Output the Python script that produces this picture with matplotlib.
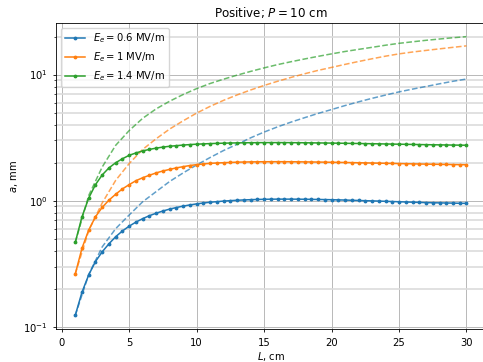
import numpy as np
import matplotlib
matplotlib.use("Agg")
import matplotlib.pyplot as plt

# solid curves: L = 1 ... 30 step 0.5
L_num = np.arange(1.0, 30.01, 0.5)
a_06 = [0.123, 0.188, 0.258, 0.329, 0.393, 0.455, 0.518, 0.575, 0.628, 0.676,
        0.72, 0.76, 0.795, 0.828, 0.857, 0.882, 0.905, 0.925, 0.943, 0.958,
        0.971, 0.982, 0.992, 1.0, 1.007, 1.013, 1.018, 1.022, 1.025, 1.027,
        1.028, 1.028, 1.028, 1.027, 1.026, 1.024, 1.022, 1.02, 1.017, 1.014,
        1.011, 1.007, 1.003, 0.999, 0.996, 0.992, 0.988, 0.984, 0.98, 0.976,
        0.972, 0.968, 0.965, 0.962, 0.96, 0.958, 0.956, 0.953, 0.952]
a_10 = [0.262, 0.42, 0.585, 0.745, 0.885, 1.01, 1.125, 1.24, 1.34, 1.44,
        1.52, 1.59, 1.66, 1.72, 1.77, 1.82, 1.86, 1.9, 1.93, 1.955,
        1.975, 1.99, 2.0, 2.01, 2.02, 2.025, 2.03, 2.033, 2.035, 2.036,
        2.037, 2.036, 2.035, 2.033, 2.03, 2.027, 2.024, 2.02, 2.016, 2.012,
        2.008, 2.003, 1.998, 1.993, 1.988, 1.983, 1.978, 1.973, 1.968, 1.963,
        1.958, 1.953, 1.949, 1.945, 1.941, 1.937, 1.933, 1.93, 1.928]
a_14 = [0.466, 0.745, 1.05, 1.34, 1.6, 1.82, 2.0, 2.15, 2.29, 2.39,
        2.48, 2.55, 2.61, 2.66, 2.7, 2.73, 2.76, 2.785, 2.805, 2.82,
        2.835, 2.847, 2.857, 2.865, 2.872, 2.877, 2.881, 2.884, 2.886, 2.887,
        2.887, 2.886, 2.884, 2.881, 2.878, 2.874, 2.87, 2.866, 2.861, 2.856,
        2.851, 2.845, 2.84, 2.834, 2.828, 2.822, 2.816, 2.81, 2.804, 2.798,
        2.792, 2.786, 2.78, 2.775, 2.77, 2.765, 2.76, 2.756, 2.752]

# dashed curves: L = 1 ... 30
L_est = np.arange(1, 31)
b_06 = [0.123, 0.26, 0.43, 0.6, 0.77, 0.98, 1.18, 1.42, 1.66, 1.92,
        2.2, 2.5, 2.8, 3.15, 3.5, 3.85, 4.2, 4.55, 4.92, 5.28,
        5.68, 6.08, 6.48, 6.88, 7.29, 7.67, 8.05, 8.45, 8.85, 9.22]
b_10 = [0.262, 0.58, 0.96, 1.45, 1.97, 2.55, 3.1, 3.7, 4.3, 4.95,
        5.6, 6.25, 6.9, 7.55, 8.2, 8.85, 9.5, 10.15, 10.8, 11.4,
        12.05, 12.7, 13.35, 14.0, 14.6, 15.1, 15.55, 16.0, 16.45, 16.9]
b_14 = [0.466, 1.1, 1.85, 2.75, 3.6, 4.5, 5.35, 6.15, 6.95, 7.74,
        8.5, 9.2, 9.9, 10.6, 11.3, 12.0, 12.65, 13.3, 13.95, 14.6,
        15.25, 15.85, 16.45, 17.1, 17.7, 18.2, 18.7, 19.15, 19.6, 20.0]

labels = ["$E_e = 0.6$ MV/m", "$E_e = 1$ MV/m", "$E_e = 1.4$ MV/m"]
colors = ["#1f77b4", "#ff7f0e", "#2ca02c"]

fs = 7.2
fig = plt.figure(figsize=(4.83, 3.62), dpi=100)
ax = fig.add_axes([0.1153, 0.0903, 0.891, 0.847])

for a, b, lab, c in zip([a_06, a_10, a_14], [b_06, b_10, b_14], labels, colors):
    ax.plot(L_num, a, '.-', color=c, lw=1.1, ms=3.5, label=lab)
    ax.plot(L_est, b, '--', color=c, lw=1.1, alpha=0.7)

ax.set_yscale('log')
ax.grid(True, which='major', color='0.72', lw=0.7)
ax.grid(True, which='minor', axis='y', color='0.86', lw=1.2)
ax.set_xticks([0, 5, 10, 15, 20, 25, 30])
ax.tick_params(labelsize=fs, width=0.6, length=2.5)
ax.tick_params(which='minor', width=0.5, length=1.5)
for s in ax.spines.values():
    s.set_linewidth(0.6)
ax.set_title("Positive; $P = 10$ cm", fontsize=8.6, pad=4)
ax.set_xlabel("$L$, cm", fontsize=fs, labelpad=2)
ax.set_ylabel("$a$, mm", fontsize=fs, labelpad=2)
ax.legend(loc='upper left', fontsize=fs)

fig.savefig("out.png", dpi=100)
